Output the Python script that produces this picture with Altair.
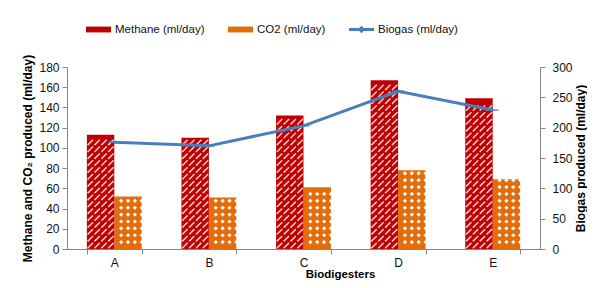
import altair as alt
import pandas as pd

categories = ["A", "B", "C", "D", "E"]
methane = [113, 110, 132, 167, 149]
co2 = [52, 51, 61, 78, 69]
biogas = [176, 170, 203, 260, 229]

series_names = ["Methane (ml/day)", "CO2 (ml/day)", "Biogas (ml/day)"]
colors = ["#C00000", "#E46C0A", "#4A7EBB"]

meth_df = pd.DataFrame({"Biodigester": categories, "Series": series_names[0], "Value": methane})
co2_df = pd.DataFrame({"Biodigester": categories, "Series": series_names[1], "Value": co2})
bio_df = pd.DataFrame({"Biodigester": categories, "Series": series_names[2], "Value": biogas})

FONT = "Liberation Sans, Arial, sans-serif"
GREY = "#868686"
S = 6.8  # pattern cell (left-axis units)

x_enc = alt.X(
    "Biodigester:N", sort=categories,
    scale=alt.Scale(paddingInner=0.42, paddingOuter=0.21),
    axis=alt.Axis(title="Biodigesters", labelAngle=0, tickBand="extent",
                  domainColor=GREY, tickColor=GREY, tickSize=5, labelPadding=3,
                  labelFontSize=12, labelColor="#111", labelFont=FONT,
                  titleFont=FONT, titleFontSize=11.5, titleFontWeight="bold",
                  titleColor="#000", titleX=273, titleY=28.5,
                  titleBaseline="alphabetic"),
)

left_scale = alt.Scale(domain=[0, 180], nice=False)
right_scale = alt.Scale(domain=[0, 300], nice=False)

legend = alt.Legend(title=None, orient="none", legendX=23, legendY=-46,
                    direction="horizontal", columns=3, labelFont=FONT,
                    labelFontSize=11.5, labelColor="#111", symbolSize=280,
                    labelOffset=8, columnPadding=22, symbolStrokeWidth=0)

color_enc = alt.Color("Series:N", scale=alt.Scale(domain=series_names, range=colors),
                      legend=legend)
bar_path = "M-1.5,-0.35H1.5V0.35H-1.5Z"
line_path = "M-1.5,-0.17H1.5V0.17H-1.5Z M0,-0.45L0.45,0L0,0.45L-0.45,0Z"
shape_enc = alt.Shape("Series:N", scale=alt.Scale(domain=series_names,
                      range=[bar_path, bar_path, line_path]), legend=legend)

bar_offset = alt.XOffset("Series:N", scale=alt.Scale(domain=series_names[:2],
                         paddingInner=0, paddingOuter=0))
grid_offset = alt.XOffset("col:O", scale=alt.Scale(type="point",
                          domain=list(range(17)), padding=0))

left_axis = alt.Axis(orient="left", values=list(range(0, 181, 20)),
                     title="Methane and CO\u2082 produced (ml/day)",
                     grid=False, domainColor=GREY, tickColor=GREY,
                     tickSize=5, labelPadding=3, labelFont=FONT,
                     labelFontSize=12, labelColor="#111",
                     titleFont=FONT, titleFontSize=12,
                     titleFontWeight="bold", titleColor="#000",
                     titlePadding=4)
right_axis = alt.Axis(orient="right", values=list(range(0, 301, 50)),
                      title="Biogas produced (ml/day)", titleAngle=270,
                      grid=False, domainColor=GREY, tickColor=GREY,
                      tickSize=5, labelPadding=7, labelFont=FONT,
                      labelFontSize=12, labelColor="#111",
                      titleFont=FONT, titleFontSize=12,
                      titleFontWeight="bold", titleColor="#000",
                      titleX=40, titleY=91, titleAlign="center",
                      titleBaseline="middle")

co2_bar = alt.Chart(co2_df).mark_bar().encode(
    x=x_enc, xOffset=bar_offset,
    y=alt.Y("Value:Q", scale=left_scale, axis=left_axis),
    color=color_enc)

co2_dots = alt.Chart(co2_df).transform_calculate(
    col="[10, 12, 14, 16]",
    row=f"sequence({S}, datum.Value + 0.001, {S})",
).transform_flatten(["col"]).transform_flatten(["row"]).mark_point(
    shape="diamond", filled=True, color="white", size=18, opacity=1
).encode(x=x_enc, xOffset=grid_offset,
         y=alt.Y("row:Q", scale=left_scale, axis=left_axis))

meth_bar = alt.Chart(meth_df).mark_bar().encode(
    x=x_enc, xOffset=bar_offset,
    y=alt.Y("Value:Q", scale=left_scale, axis=left_axis),
    color=color_enc)

hatch = alt.Chart(meth_df).transform_calculate(
    col="[1, 3, 5, 7]",
    row=f"sequence({S / 2}, datum.Value - {S / 2} + 0.001, {S})",
).transform_flatten(["col"]).transform_flatten(["row"]).mark_point(
    shape="M-0.8,0.8L0.8,-0.8", filled=False, stroke="white",
    strokeWidth=1.5, size=46, opacity=0.8
).encode(x=x_enc, xOffset=grid_offset,
         y=alt.Y("row:Q", scale=left_scale, axis=left_axis))

left = alt.layer(co2_bar, co2_dots, meth_bar, hatch).resolve_scale(xOffset="independent")

bio_line = alt.Chart(bio_df).mark_line(color="#4A7EBB", strokeWidth=3).encode(
    x=x_enc, y=alt.Y("Value:Q", scale=right_scale, axis=right_axis))

bio_pts = alt.Chart(bio_df).mark_point(filled=True, shape="diamond", size=64,
                                        opacity=1).encode(
    x=x_enc, y=alt.Y("Value:Q", scale=right_scale, axis=right_axis),
    color=color_enc, shape=shape_enc)

right = alt.layer(bio_line, bio_pts)

chart = alt.layer(left, right).resolve_scale(y="independent").properties(
    width=473, height=182,
    autosize=alt.AutoSizeParams(type="none"),
    padding={"left": 59, "top": 59, "right": 47, "bottom": 31},
).configure(font=FONT).configure_view(stroke=None)

chart.save("out.html", embed_options={"renderer": "svg", "actions": False})
